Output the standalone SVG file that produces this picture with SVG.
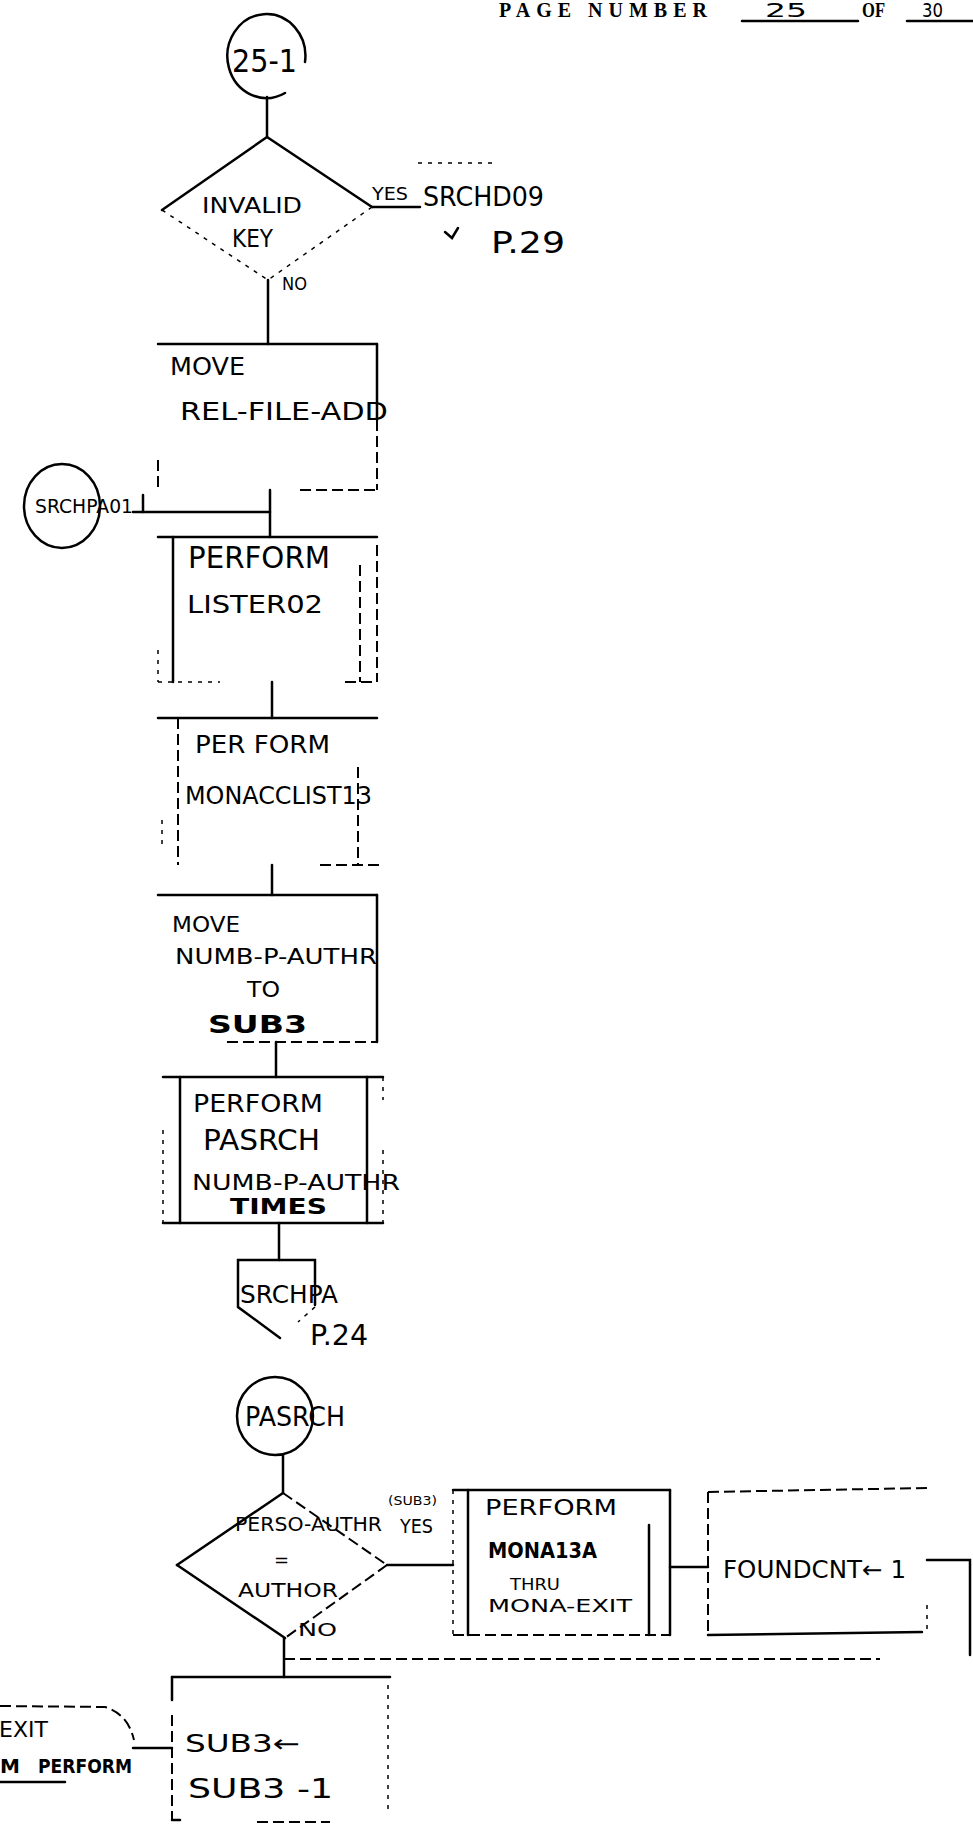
<svg xmlns="http://www.w3.org/2000/svg" width="973" height="1834" viewBox="0 0 973 1834">
<style>
.ln{stroke:#000;stroke-width:2.5;fill:none;stroke-linecap:round}
.dl{stroke:#000;stroke-width:2;fill:none;stroke-dasharray:11 5}
.fl{stroke:#000;stroke-width:1.5;fill:none;stroke-dasharray:4 6}
.t{font-family:"DejaVu Sans","Liberation Sans",sans-serif;fill:#000}
.h{font-family:"Liberation Serif",serif;font-weight:bold;fill:#000}
</style>
<rect width="973" height="1834" fill="#fff"/>
<g id="header">
<text class="h" x="499" y="17" font-size="20" textLength="208" lengthAdjust="spacing">PAGE NUMBER</text>
<text class="t" x="765" y="17" font-size="20" textLength="42" lengthAdjust="spacingAndGlyphs">25</text>
<line class="ln" x1="742" y1="21" x2="858" y2="21"/>
<text class="h" x="862" y="17" font-size="20" textLength="23" lengthAdjust="spacingAndGlyphs">OF</text>
<text class="t" x="922" y="17" font-size="20" textLength="21" lengthAdjust="spacingAndGlyphs">30</text>
<line class="ln" x1="907" y1="21" x2="973" y2="21"/>
</g>
<g id="connectors">
<line class="ln" x1="267" y1="97" x2="267" y2="137"/>
<line class="ln" x1="372" y1="207" x2="420" y2="207"/>
<line class="ln" x1="268" y1="280" x2="268" y2="344"/>
<line class="ln" x1="270" y1="490" x2="270" y2="537"/>
<line class="ln" x1="133" y1="512" x2="270" y2="512"/>
<line class="ln" x1="143" y1="495" x2="143" y2="512"/>
<line class="ln" x1="272" y1="682" x2="272" y2="718"/>
<line class="ln" x1="272" y1="865" x2="272" y2="895"/>
<line class="ln" x1="276" y1="1042" x2="276" y2="1077"/>
<line class="ln" x1="279" y1="1223" x2="279" y2="1260"/>
<line class="ln" x1="283" y1="1455" x2="283" y2="1493"/>
<line class="ln" x1="387" y1="1565" x2="453" y2="1565"/>
<line class="ln" x1="670" y1="1567" x2="708" y2="1567"/>
<polyline class="ln" points="927,1560 970,1560 970,1655"/>
<line class="dl" x1="284" y1="1659" x2="880" y2="1659"/>
<line class="ln" x1="284" y1="1638" x2="284" y2="1677"/>
<line class="ln" x1="133" y1="1748" x2="172" y2="1748"/>
</g>
<g id="n-25-1">
<path class="ln" d="M305 62 A39 42 0 1 0 285 93"/>
<text class="t" x="232" y="72" font-size="32" textLength="65" lengthAdjust="spacingAndGlyphs">25-1</text>
</g>
<g id="d-invalid-key">
<line class="ln" x1="267" y1="137" x2="162" y2="210"/>
<line class="ln" x1="267" y1="137" x2="372" y2="207"/>
<line class="fl" x1="162" y1="210" x2="268" y2="280"/>
<line class="fl" x1="372" y1="207" x2="268" y2="280"/>
<text class="t" x="202" y="213" font-size="22" textLength="100" lengthAdjust="spacingAndGlyphs">INVALID</text>
<text class="t" x="232" y="247" font-size="24" textLength="41" lengthAdjust="spacingAndGlyphs">KEY</text>
<text class="t" x="282" y="290" font-size="18" textLength="25" lengthAdjust="spacingAndGlyphs">NO</text>
<text class="t" x="372" y="200" font-size="17" textLength="36" lengthAdjust="spacingAndGlyphs">YES</text>
<line class="fl" x1="418" y1="163" x2="494" y2="163"/>
<text class="t" x="423" y="206" font-size="26" textLength="121" lengthAdjust="spacingAndGlyphs">SRCHD09</text>
<path class="ln" d="M445 232 L452 238 L458 228" stroke-width="1.5"/>
<text class="t" x="491" y="253" font-size="30" textLength="74" lengthAdjust="spacingAndGlyphs">P.29</text>
</g>
<g id="b-move-rel">
<line class="ln" x1="158" y1="344" x2="377" y2="344"/>
<line class="ln" x1="377" y1="344" x2="377" y2="420"/>
<line class="dl" x1="377" y1="420" x2="377" y2="490"/>
<line class="dl" x1="300" y1="490" x2="377" y2="490"/>
<line class="dl" x1="158" y1="460" x2="158" y2="490"/>
<text class="t" x="170" y="375" font-size="24" textLength="75" lengthAdjust="spacingAndGlyphs">MOVE</text>
<text class="t" x="180" y="420" font-size="24" textLength="208" lengthAdjust="spacingAndGlyphs">REL-FILE-ADD</text>
</g>
<g id="c-srchpa01">
<ellipse class="ln" cx="62" cy="506" rx="38" ry="42" stroke-width="2"/>
<text class="t" x="35" y="513" font-size="20" textLength="98" lengthAdjust="spacingAndGlyphs">SRCHPA01</text>
</g>
<g id="b-perform-lister">
<line class="ln" x1="158" y1="537" x2="377" y2="537"/>
<line class="ln" x1="173" y1="537" x2="173" y2="682"/>
<line class="fl" x1="158" y1="650" x2="158" y2="682"/>
<line class="dl" x1="377" y1="545" x2="377" y2="682"/>
<line class="dl" x1="360" y1="565" x2="360" y2="682"/>
<line class="fl" x1="158" y1="682" x2="220" y2="682"/>
<line class="dl" x1="345" y1="682" x2="377" y2="682"/>
<text class="t" x="188" y="568" font-size="30" textLength="142" lengthAdjust="spacingAndGlyphs">PERFORM</text>
<text class="t" x="187" y="613" font-size="25" textLength="136" lengthAdjust="spacingAndGlyphs">LISTER02</text>
</g>
<g id="b-perform-monacclist">
<line class="ln" x1="158" y1="718" x2="377" y2="718"/>
<line class="dl" x1="178" y1="718" x2="178" y2="865"/>
<line class="fl" x1="162" y1="820" x2="162" y2="845"/>
<line class="dl" x1="358" y1="767" x2="358" y2="865"/>
<line class="dl" x1="320" y1="865" x2="380" y2="865"/>
<text class="t" x="195" y="753" font-size="24" textLength="135" lengthAdjust="spacingAndGlyphs">PER FORM</text>
<text class="t" x="185" y="804" font-size="24" textLength="187" lengthAdjust="spacingAndGlyphs">MONACCLIST13</text>
</g>
<g id="b-move-numb">
<line class="ln" x1="158" y1="895" x2="377" y2="895"/>
<line class="ln" x1="377" y1="895" x2="377" y2="1042"/>
<line class="dl" x1="227" y1="1042" x2="377" y2="1042"/>
<text class="t" x="172" y="932" font-size="21" textLength="68" lengthAdjust="spacingAndGlyphs">MOVE</text>
<text class="t" x="175" y="964" font-size="22" textLength="202" lengthAdjust="spacingAndGlyphs">NUMB-P-AUTHR</text>
<text class="t" x="247" y="997" font-size="22" textLength="33" lengthAdjust="spacingAndGlyphs">TO</text>
<text class="t" x="208" y="1033" font-size="24" font-weight="bold" textLength="99" lengthAdjust="spacingAndGlyphs">SUB3</text>
</g>
<g id="b-perform-pasrch">
<line class="ln" x1="163" y1="1077" x2="383" y2="1077"/>
<line class="ln" x1="180" y1="1077" x2="180" y2="1223"/>
<line class="ln" x1="367" y1="1077" x2="367" y2="1223"/>
<line class="fl" x1="163" y1="1130" x2="163" y2="1223"/>
<line class="fl" x1="383" y1="1077" x2="383" y2="1100"/>
<line class="fl" x1="383" y1="1150" x2="383" y2="1223"/>
<line class="ln" x1="163" y1="1223" x2="383" y2="1223" stroke-width="2"/>
<text class="t" x="193" y="1112" font-size="24" textLength="130" lengthAdjust="spacingAndGlyphs">PERFORM</text>
<text class="t" x="203" y="1150" font-size="28" textLength="117" lengthAdjust="spacingAndGlyphs">PASRCH</text>
<text class="t" x="192" y="1190" font-size="22" textLength="208" lengthAdjust="spacingAndGlyphs">NUMB-P-AUTHR</text>
<text class="t" x="230" y="1214" font-size="22" font-weight="bold" textLength="97" lengthAdjust="spacingAndGlyphs">TIMES</text>
</g>
<g id="o-srchpa">
<polyline class="ln" points="315,1305 315,1260 238,1260 238,1307 280,1338"/>
<line class="fl" x1="315" y1="1307" x2="298" y2="1322"/>
<text class="t" x="240" y="1303" font-size="24" textLength="98" lengthAdjust="spacingAndGlyphs">SRCHPA</text>
<text class="t" x="310" y="1345" font-size="28" textLength="58" lengthAdjust="spacingAndGlyphs">P.24</text>
</g>
<g id="c-pasrch">
<ellipse class="ln" cx="275" cy="1416" rx="38" ry="39" stroke-width="2"/>
<text class="t" x="245" y="1426" font-size="26" textLength="100" lengthAdjust="spacingAndGlyphs">PASRCH</text>
</g>
<g id="d-perso-authr">
<line class="ln" x1="283" y1="1493" x2="177" y2="1565"/>
<line class="dl" x1="283" y1="1493" x2="387" y2="1565"/>
<line class="ln" x1="177" y1="1565" x2="285" y2="1638"/>
<line class="dl" x1="387" y1="1565" x2="285" y2="1638"/>
<text class="t" x="235" y="1531" font-size="19" textLength="147" lengthAdjust="spacingAndGlyphs">PERSO-AUTHR</text>
<text class="t" x="388" y="1505" font-size="12" textLength="49" lengthAdjust="spacingAndGlyphs">(SUB3)</text>
<text class="t" x="400" y="1533" font-size="20" textLength="33" lengthAdjust="spacingAndGlyphs">YES</text>
<text class="t" x="274" y="1566" font-size="18">=</text>
<text class="t" x="238" y="1597" font-size="20" textLength="100" lengthAdjust="spacingAndGlyphs">AUTHOR</text>
<text class="t" x="298" y="1636" font-size="18" textLength="39" lengthAdjust="spacingAndGlyphs">NO</text>
</g>
<g id="b-perform-mona">
<line class="ln" x1="453" y1="1490" x2="670" y2="1490"/>
<line class="ln" x1="670" y1="1490" x2="670" y2="1635"/>
<line class="ln" x1="649" y1="1525" x2="649" y2="1635"/>
<line class="ln" x1="468" y1="1490" x2="468" y2="1635"/>
<line class="fl" x1="453" y1="1490" x2="453" y2="1635"/>
<line class="dl" x1="453" y1="1635" x2="670" y2="1635"/>
<text class="t" x="485" y="1515" font-size="21" textLength="132" lengthAdjust="spacingAndGlyphs">PERFORM</text>
<text class="t" x="488" y="1558" font-size="21" font-weight="bold" textLength="109" lengthAdjust="spacingAndGlyphs">MONA13A</text>
<text class="t" x="510" y="1590" font-size="16" textLength="50" lengthAdjust="spacingAndGlyphs">THRU</text>
<text class="t" x="488" y="1612" font-size="17" textLength="144" lengthAdjust="spacingAndGlyphs">MONA-EXIT</text>
</g>
<g id="b-foundcnt">
<line class="dl" x1="708" y1="1492" x2="927" y2="1488"/>
<line class="dl" x1="708" y1="1492" x2="708" y2="1635"/>
<line class="ln" x1="708" y1="1635" x2="922" y2="1632" stroke-width="2"/>
<line class="fl" x1="927" y1="1605" x2="927" y2="1632"/>
<text class="t" x="723" y="1578" font-size="24" textLength="183" lengthAdjust="spacingAndGlyphs">FOUNDCNT← 1</text>
</g>
<g id="b-sub3">
<line class="ln" x1="172" y1="1677" x2="390" y2="1677"/>
<line class="ln" x1="172" y1="1677" x2="172" y2="1700"/>
<line class="dl" x1="172" y1="1715" x2="172" y2="1820"/>
<line class="fl" x1="388" y1="1685" x2="388" y2="1810"/>
<line class="ln" x1="172" y1="1820" x2="180" y2="1820"/>
<line class="dl" x1="257" y1="1822" x2="330" y2="1822"/>
<text class="t" x="185" y="1752" font-size="24" textLength="115" lengthAdjust="spacingAndGlyphs">SUB3←</text>
<text class="t" x="188" y="1798" font-size="26" textLength="145" lengthAdjust="spacingAndGlyphs">SUB3 -1</text>
</g>
<g id="t-exit">
<path class="dl" d="M0 1706 L105 1707 Q128 1714 134 1740"/>
<text class="t" x="48" y="1737" font-size="22" text-anchor="end">EXIT</text>
<text class="t" x="20" y="1773" font-size="20" font-weight="bold" text-anchor="end">FROM</text>
<text class="t" x="38" y="1773" font-size="20" font-weight="bold" textLength="94" lengthAdjust="spacingAndGlyphs">PERFORM</text>
<line class="ln" x1="0" y1="1782" x2="65" y2="1782" stroke-width="2"/>
</g>
</svg>
